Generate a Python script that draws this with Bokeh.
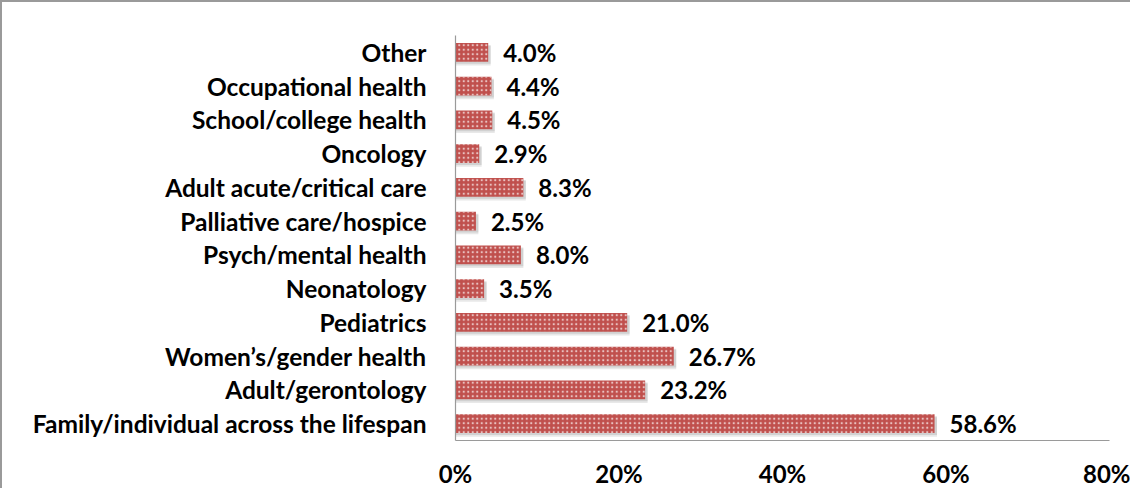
from bokeh.plotting import figure
from bokeh.models import Range1d, FactorRange, ColumnDataSource, PrintfTickFormatter, FixedTicker
from bokeh.transform import dodge
from bokeh.core.properties import value
from bokeh.embed import file_html
from bokeh.resources import INLINE

# Data (top-to-bottom order as shown in the reference)
categories = [
    "Other",
    "Occupational health",
    "School/college health",
    "Oncology",
    "Adult acute/critical care",
    "Palliative care/hospice",
    "Psych/mental health",
    "Neonatology",
    "Pediatrics",
    "Women\u2019s/gender health",
    "Adult/gerontology",
    "Family/individual across the lifespan",
]
percents = [4.0, 4.4, 4.5, 2.9, 8.3, 2.5, 8.0, 3.5, 21.0, 26.7, 23.2, 58.6]
x_ticks = [0, 20, 40, 60, 80]

# Bokeh puts the first factor at the bottom, so reverse
cats_bottom_up = categories[::-1]
vals_bottom_up = percents[::-1]

src = ColumnDataSource(dict(
    cat=cats_bottom_up,
    val=vals_bottom_up,
    shadow=[v + 0.3 for v in vals_bottom_up],
    label=[f"{v:.1f}%" for v in vals_bottom_up],
))

FONT = "Lato"

p = figure(
    width=1130, height=488,
    x_range=Range1d(0, 80),
    y_range=FactorRange(factors=cats_bottom_up, range_padding=0),
    output_backend="svg", toolbar_location=None,
    min_border_left=453, min_border_right=23, min_border_top=33, min_border_bottom=47,
)
p.styles = {"border-left": "2px solid #9a9a9a", "border-top": "2px solid #9a9a9a"}
p.outline_line_color = None
p.xgrid.grid_line_color = None
p.ygrid.grid_line_color = None

# soft shadow
p.hbar(y=dodge("cat", -0.1, range=p.y_range), left=0, right="shadow", height=0.58,
       source=src, fill_color="#808080", fill_alpha=0.18, line_color=None)
p.hbar(y=dodge("cat", -0.06, range=p.y_range), left=0, right="shadow", height=0.56,
       source=src, fill_color="#808080", fill_alpha=0.22, line_color=None)

# bars with dotted pattern
p.hbar(y="cat", left=0, right="val", height=0.56, source=src,
       fill_color="#C0504D", line_color=None,
       hatch_pattern="dot", hatch_color="white", hatch_alpha=0.65,
       hatch_scale=4.5, hatch_weight=0.9)

p.text(x="val", y="cat", text="label", source=src, x_offset=15,
       text_baseline="middle", text_align="left",
       text_font=value(FONT), text_font_style="bold", text_font_size="24px",
       text_color="#000000")

# axes
p.xaxis.ticker = FixedTicker(ticks=x_ticks)
p.xaxis.formatter = PrintfTickFormatter(format="%d%%")
p.xaxis.major_tick_line_color = None
p.xaxis.minor_tick_line_color = None
p.xaxis.axis_line_color = "#9a9a9a"
p.xaxis.axis_line_width = 1.2
p.xaxis.major_label_standoff = 12
p.xaxis.major_label_text_font = FONT
p.xaxis.major_label_text_font_style = "bold"
p.xaxis.major_label_text_font_size = "24px"
p.xaxis.major_label_text_color = "#000000"

p.yaxis.major_tick_line_color = None
p.yaxis.minor_tick_line_color = None
p.yaxis.axis_line_color = "#9a9a9a"
p.yaxis.axis_line_width = 1.2
p.yaxis.major_label_standoff = 23
p.yaxis.major_label_text_font = FONT
p.yaxis.major_label_text_font_style = "bold"
p.yaxis.major_label_text_font_size = "24.5px"
p.yaxis.major_label_text_color = "#000000"

open("out.html", "w").write(file_html(p, INLINE))
